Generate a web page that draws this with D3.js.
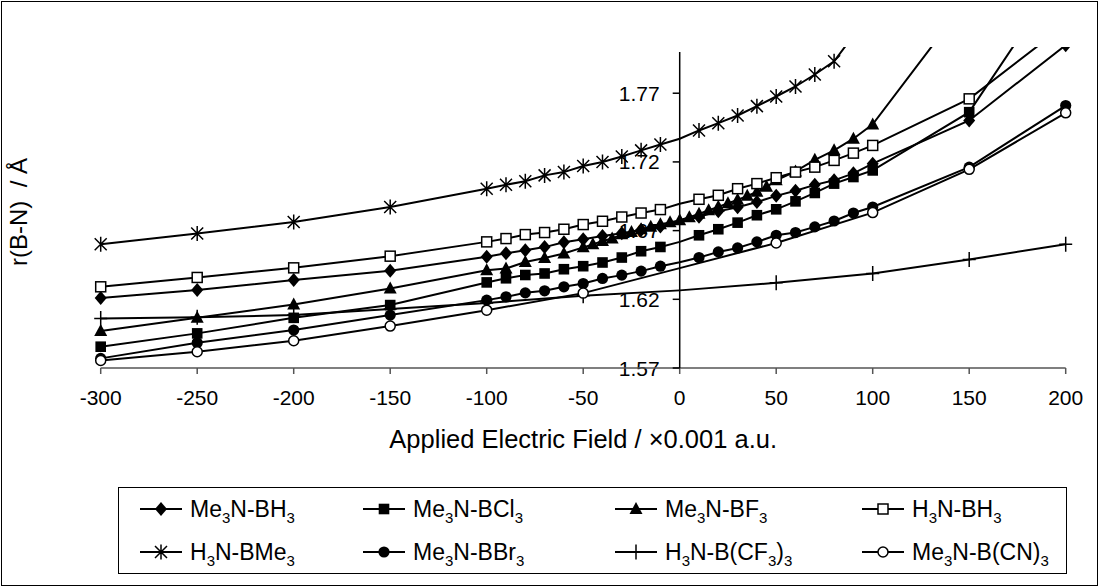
<!DOCTYPE html>
<html>
<head>
<meta charset="utf-8">
<script src="https://cdn.jsdelivr.net/npm/d3@7"></script>
<style>
  body { margin: 0; background: #fff; }
  text { font-family: "Liberation Sans", Arial, sans-serif; fill: #000; }
</style>
</head>
<body>
<svg id="chart" width="1099" height="587"></svg>
<script>
// Applied field values (x 0.001 a.u.) used by most compounds
const fieldGrid = [-300, -250, -200, -150, -100, -90, -80, -70, -60, -50, -40, -30, -20, -10, 0,
                   10, 20, 30, 40, 50, 60, 70, 80, 90, 100, 150, 200];
// Finer grid used for Me3N-BF3
const fieldFineBF3 = [-300, -250, -200, -150, -100, -90, -80, -70, -60, -50, -45, -40, -35, -30, -25,
                      -20, -15, -10, -5, 0, 5, 10, 15, 20, 25, 30, 35, 40, 45, 50, 60, 70, 80, 90, 100, 150];
// Coarse grid used for H3N-B(CF3)3 and Me3N-B(CN)3
const fieldCoarse = [-300, -250, -200, -150, -100, -50, 0, 50, 100, 150, 200];

// B-N bond length (Angstrom)
const me3nBH3   = [1.621, 1.6267, 1.634, 1.6407, 1.651, 1.6535, 1.6557, 1.658, 1.6615, 1.6637, 1.666, 1.668, 1.6705, 1.673, 1.6765,
                   1.680, 1.684, 1.687, 1.6908, 1.6953, 1.699, 1.7033, 1.7066, 1.7117, 1.7187, 1.7502, 1.805];
const me3nBCl3  = [1.5855, 1.5952, 1.6065, 1.6158, 1.6323, 1.6353, 1.6377, 1.6388, 1.6419, 1.6441, 1.6468, 1.6504, 1.655, 1.6581, 1.6618,
                   1.6666, 1.671, 1.6758, 1.6812, 1.6855, 1.6913, 1.6974, 1.7042, 1.709, 1.7138, 1.7562, 1.861];
const me3nBF3   = [1.597, 1.6065, 1.6163, 1.6279, 1.6412, 1.6424, 1.6472, 1.6501, 1.6533, 1.6578, 1.660, 1.6625, 1.6642, 1.6673, 1.669,
                   1.671, 1.6728, 1.6746, 1.676, 1.6775, 1.6797, 1.6822, 1.6848, 1.6873, 1.6899, 1.6924, 1.6953, 1.6982, 1.7019, 1.7066,
                   1.7131, 1.7215, 1.7284, 1.7369, 1.7473, 1.84];
const h3nBH3    = [1.6291, 1.6359, 1.6429, 1.6514, 1.6618, 1.6642, 1.6671, 1.6686, 1.671, 1.6744, 1.6768, 1.6799, 1.6828, 1.6853, 1.6895,
                   1.6928, 1.6957, 1.7005, 1.7042, 1.7085, 1.7126, 1.7162, 1.7211, 1.7264, 1.732, 1.7659, 1.82];
const h3nBMe3   = [1.6601, 1.6679, 1.6763, 1.6872, 1.7005, 1.7034, 1.7059, 1.7102, 1.7126, 1.717, 1.7199, 1.724, 1.7284, 1.7327, 1.7369,
                   1.7429, 1.7482, 1.7538, 1.7606, 1.7676, 1.7749, 1.7836, 1.7932, 1.812, 1.83];
const me3nBBr3  = [1.577, 1.5884, 1.5976, 1.6085, 1.6194, 1.6218, 1.6247, 1.6262, 1.6291, 1.6315, 1.6352, 1.6376, 1.6405, 1.6441, 1.647,
                   1.6504, 1.6545, 1.6574, 1.6618, 1.6666, 1.6686, 1.6727, 1.677, 1.6828, 1.6872, 1.7162, 1.761];
const h3nBCF3   = [1.6061, 1.607, 1.6085, 1.613, 1.6174, 1.6225, 1.6265, 1.632, 1.6388, 1.649, 1.6601];
const me3nBCN3  = [1.5755, 1.5818, 1.5898, 1.6005, 1.6121, 1.6245, 1.6427, 1.661, 1.6831, 1.7146, 1.7557];

const yTicks = [1.57, 1.62, 1.67, 1.72, 1.77];
const xTicks = [-300, -250, -200, -150, -100, -50, 0, 50, 100, 150, 200];

// name parts: [text, isSubscript]
const series = [
  { name: [["Me", 0], ["3", 1], ["N-BH", 0], ["3", 1]],           x: fieldGrid,    y: me3nBH3,  marker: "diamond",  step: 10 },
  { name: [["Me", 0], ["3", 1], ["N-BCl", 0], ["3", 1]],          x: fieldGrid,    y: me3nBCl3, marker: "square",   step: 10 },
  { name: [["Me", 0], ["3", 1], ["N-BF", 0], ["3", 1]],           x: fieldFineBF3, y: me3nBF3,  marker: "triangle", step: 5 },
  { name: [["H", 0], ["3", 1], ["N-BH", 0], ["3", 1]],            x: fieldGrid,    y: h3nBH3,   marker: "osquare",  step: 10 },
  { name: [["H", 0], ["3", 1], ["N-BMe", 0], ["3", 1]],           x: fieldGrid.slice(0, h3nBMe3.length), y: h3nBMe3, marker: "star", step: 10 },
  { name: [["Me", 0], ["3", 1], ["N-BBr", 0], ["3", 1]],          x: fieldGrid,    y: me3nBBr3, marker: "circle",   step: 10 },
  { name: [["H", 0], ["3", 1], ["N-B(CF", 0], ["3", 1], [")", 0], ["3", 1]], x: fieldCoarse, y: h3nBCF3, marker: "plus", step: 50 },
  { name: [["Me", 0], ["3", 1], ["N-B(CN)", 0], ["3", 1]],        x: fieldCoarse,  y: me3nBCN3, marker: "ocircle",  step: 50 }
];

const svg = d3.select("#chart");
const W = 1099, H = 587;

// chart frame
svg.append("rect").attr("x", 1.5).attr("y", 1.5).attr("width", W - 3).attr("height", H - 3)
  .attr("fill", "#fff").attr("stroke", "#000").attr("stroke-width", 1);

const x = d3.scaleLinear().domain([-300, 200]).range([100.7, 1065.7]);
const y = d3.scaleLinear().domain([1.57, 1.80]).range([368, 52]);
const x0 = x(0);

// tick labels sit underneath the data
const fontTick = 21;
svg.append("g").selectAll("text").data(yTicks).join("text")
  .attr("x", x0 - 20).attr("y", d => y(d) + 7.5)
  .attr("text-anchor", "end").attr("font-size", fontTick)
  .text(d => d.toFixed(2));

svg.append("g").selectAll("text").data(xTicks).join("text")
  .attr("x", d => x(d)).attr("y", 405)
  .attr("text-anchor", "middle").attr("font-size", fontTick)
  .text(d => d);

// x axis (crosses at 1.57)
const gx = svg.append("g");
gx.append("line").attr("x1", x(-300)).attr("x2", x(200)).attr("y1", y(1.57)).attr("y2", y(1.57))
  .attr("stroke", "#555").attr("stroke-width", 1.5);
gx.selectAll("line.t").data(xTicks).join("line").attr("class", "t")
  .attr("x1", d => x(d)).attr("x2", d => x(d)).attr("y1", y(1.57)).attr("y2", y(1.57) + 6)
  .attr("stroke", "#555").attr("stroke-width", 1.5);

// y axis (crosses at 0)
const gy = svg.append("g");
gy.append("line").attr("x1", x0).attr("x2", x0).attr("y1", y(1.80)).attr("y2", y(1.57))
  .attr("stroke", "#000").attr("stroke-width", 1.5);
gy.selectAll("line.t").data(yTicks).join("line").attr("class", "t")
  .attr("x1", x0 - 7).attr("x2", x0).attr("y1", d => y(d)).attr("y2", d => y(d))
  .attr("stroke", "#000").attr("stroke-width", 1.5);

// axis titles
svg.append("text").attr("x", (x(-300) + x(200)) / 2).attr("y", 448)
  .attr("text-anchor", "middle").attr("font-size", 25.5)
  .text("Applied Electric Field / \u00d70.001 a.u.");
svg.append("text").attr("transform", `translate(27,212) rotate(-90)`)
  .attr("text-anchor", "middle").attr("font-size", 24)
  .text("r(B-N)\u00a0 / \u00c5");

// markers
function marker(g, type, cx, cy) {
  const sw = 1.5;
  switch (type) {
    case "diamond":
      g.append("path").attr("d", `M${cx},${cy - 7}L${cx + 6},${cy}L${cx},${cy + 7}L${cx - 6},${cy}Z`).attr("fill", "#000"); break;
    case "square":
      g.append("rect").attr("x", cx - 5.3).attr("y", cy - 5.3).attr("width", 10.6).attr("height", 10.6).attr("fill", "#000"); break;
    case "triangle":
      g.append("path").attr("d", `M${cx},${cy - 7}L${cx + 6.5},${cy + 5}L${cx - 6.5},${cy + 5}Z`).attr("fill", "#000"); break;
    case "osquare":
      g.append("rect").attr("x", cx - 5).attr("y", cy - 5).attr("width", 10).attr("height", 10)
        .attr("fill", "#fff").attr("stroke", "#000").attr("stroke-width", sw); break;
    case "star":
      g.append("path").attr("d", `M${cx - 6},${cy - 6}L${cx + 6},${cy + 6}M${cx - 6},${cy + 6}L${cx + 6},${cy - 6}M${cx},${cy - 7.5}L${cx},${cy + 7.5}`)
        .attr("stroke", "#000").attr("stroke-width", sw).attr("fill", "none"); break;
    case "circle":
      g.append("circle").attr("cx", cx).attr("cy", cy).attr("r", 5.6).attr("fill", "#000"); break;
    case "plus":
      g.append("path").attr("d", `M${cx - 6.5},${cy}L${cx + 6.5},${cy}M${cx},${cy - 7.5}L${cx},${cy + 7.5}`)
        .attr("stroke", "#000").attr("stroke-width", sw).attr("fill", "none"); break;
    case "ocircle":
      g.append("circle").attr("cx", cx).attr("cy", cy).attr("r", 5)
        .attr("fill", "#fff").attr("stroke", "#000").attr("stroke-width", sw); break;
  }
}

// plot area clip
svg.append("defs").append("clipPath").attr("id", "plotClip")
  .append("rect").attr("x", x(-300) - 10).attr("y", 47).attr("width", x(200) - x(-300) + 20).attr("height", y(1.57) - 47 + 10);

const plot = svg.append("g").attr("clip-path", "url(#plotClip)");
const line = d3.line().x(d => x(d[0])).y(d => y(d[1]));

series.forEach(s => {
  const pts = s.x.map((v, i) => [v, s.y[i]]);
  const g = plot.append("g");
  g.append("path").attr("d", line(pts)).attr("fill", "none").attr("stroke", "#000").attr("stroke-width", 2);
  pts.filter(p => (p[0] !== 0 || s.step === 5) && p[0] % s.step === 0 && !(s.step === 5 && p[0] < -50 && p[0] % 10 !== 0))
    .forEach(p => marker(g, s.marker, x(p[0]), y(p[1])));
});

// legend
const lg = svg.append("g");
lg.append("rect").attr("x", 118.5).attr("y", 487.5).attr("width", 948).attr("height", 86)
  .attr("fill", "#fff").attr("stroke", "#000").attr("stroke-width", 1);
const colX = [140, 363, 615, 862];
const rowY = [509, 552];
series.forEach((s, i) => {
  const cx = colX[i % 4], cy = rowY[Math.floor(i / 4)];
  const g = lg.append("g");
  g.append("line").attr("x1", cx).attr("x2", cx + 42).attr("y1", cy).attr("y2", cy)
    .attr("stroke", "#000").attr("stroke-width", 2);
  marker(g, s.marker, cx + 21, cy);
  const t = g.append("text").attr("x", cx + 50).attr("y", cy + 8).attr("font-size", 23);
  s.name.forEach(([txt, sub]) => {
    const ts = t.append("tspan").text(txt);
    if (sub) ts.attr("font-size", 15).attr("dy", 6);
    else ts.attr("dy", t.selectAll("tspan").size() > 1 ? -6 : 0);
  });
});
</script>
</body>
</html>
